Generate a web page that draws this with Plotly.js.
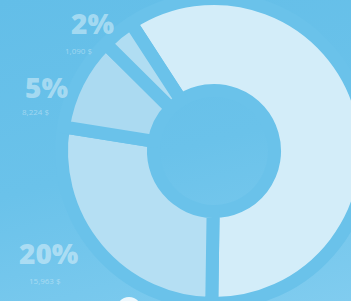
<!DOCTYPE html>
<html>
<head>
<meta charset="utf-8">
<script src="https://cdn.plot.ly/plotly-3.0.1.min.js"></script>
<style>
  html, body { margin: 0; padding: 0; width: 351px; height: 301px; overflow: hidden; }
  body { background: linear-gradient(165deg, #63bee8 0%, #6ac2ea 50%, #80ccef 100%); }
  #chart { position: absolute; left: 0; top: -10px; width: 420px; height: 330px; }
</style>
</head>
<body>
<div id="chart"></div>
<script>
// Data (share of the ring each slice covers)
const categories = ["Main", "20%", "5%", "2%"];
const sliceShares = [59.4, 27.3, 9.9, 3.4];
const percentLabels = ["20%", "5%", "2%"];
const amountLabels = ["15,963 $", "8,224 $", "1,090 $"];
const sliceColors = ["#d3edf9", "#b5dff3", "#abdaf1", "#b0ddf2"];

const W = 420, H = 330, OFFY = 10;
function px(x) { return x / W; }
function py(y) { return 1 - (y + OFFY) / H; }

// label anchor points (screen pixels)
const bigPos = [[49, 253], [46, 87], [92, 23]];
const subPos = [[45, 280], [35, 112], [78, 50]];

const annotations = [];
for (let i = 0; i < percentLabels.length; i++) {
  annotations.push({
    xref: "paper", yref: "paper", x: px(bigPos[i][0]), y: py(bigPos[i][1]),
    xanchor: "center", yanchor: "middle", showarrow: false,
    text: percentLabels[i],
    font: { family: "Open Sans", size: 28, weight: 800, color: "rgba(255,255,255,0.42)" }
  });
  annotations.push({
    xref: "paper", yref: "paper", x: px(subPos[i][0]), y: py(subPos[i][1]),
    xanchor: "center", yanchor: "middle", showarrow: false,
    text: amountLabels[i],
    font: { family: "Open Sans", size: 8, color: "rgba(255,255,255,0.38)" }
  });
}

const cx = 214, cy = 151, R = 152.5;
const trace = {
  type: "pie",
  labels: categories,
  values: sliceShares,
  sort: false,
  direction: "clockwise",
  rotation: 327,
  hole: 0.397,
  textinfo: "none",
  hoverinfo: "none",
  showlegend: false,
  marker: { colors: sliceColors, line: { color: "#6ac2ea", width: 13 } },
  domain: { x: [(cx - R) / W, (cx + R) / W], y: [1 - (cy + OFFY + R) / H, 1 - (cy + OFFY - R) / H] }
};

const layout = {
  width: W, height: H,
  margin: { l: 0, r: 0, t: 0, b: 0 },
  paper_bgcolor: "rgba(0,0,0,0)",
  plot_bgcolor: "rgba(0,0,0,0)",
  showlegend: false,
  annotations: annotations,
  shapes: [{
    type: "circle", xref: "paper", yref: "paper",
    x0: px(116), x1: px(142), y0: py(324), y1: py(297),
    fillcolor: "rgba(255,255,255,0.85)", line: { width: 0 }
  }]
};

Plotly.newPlot("chart", [trace], layout, { staticPlot: true, displayModeBar: false });
</script>
</body>
</html>
